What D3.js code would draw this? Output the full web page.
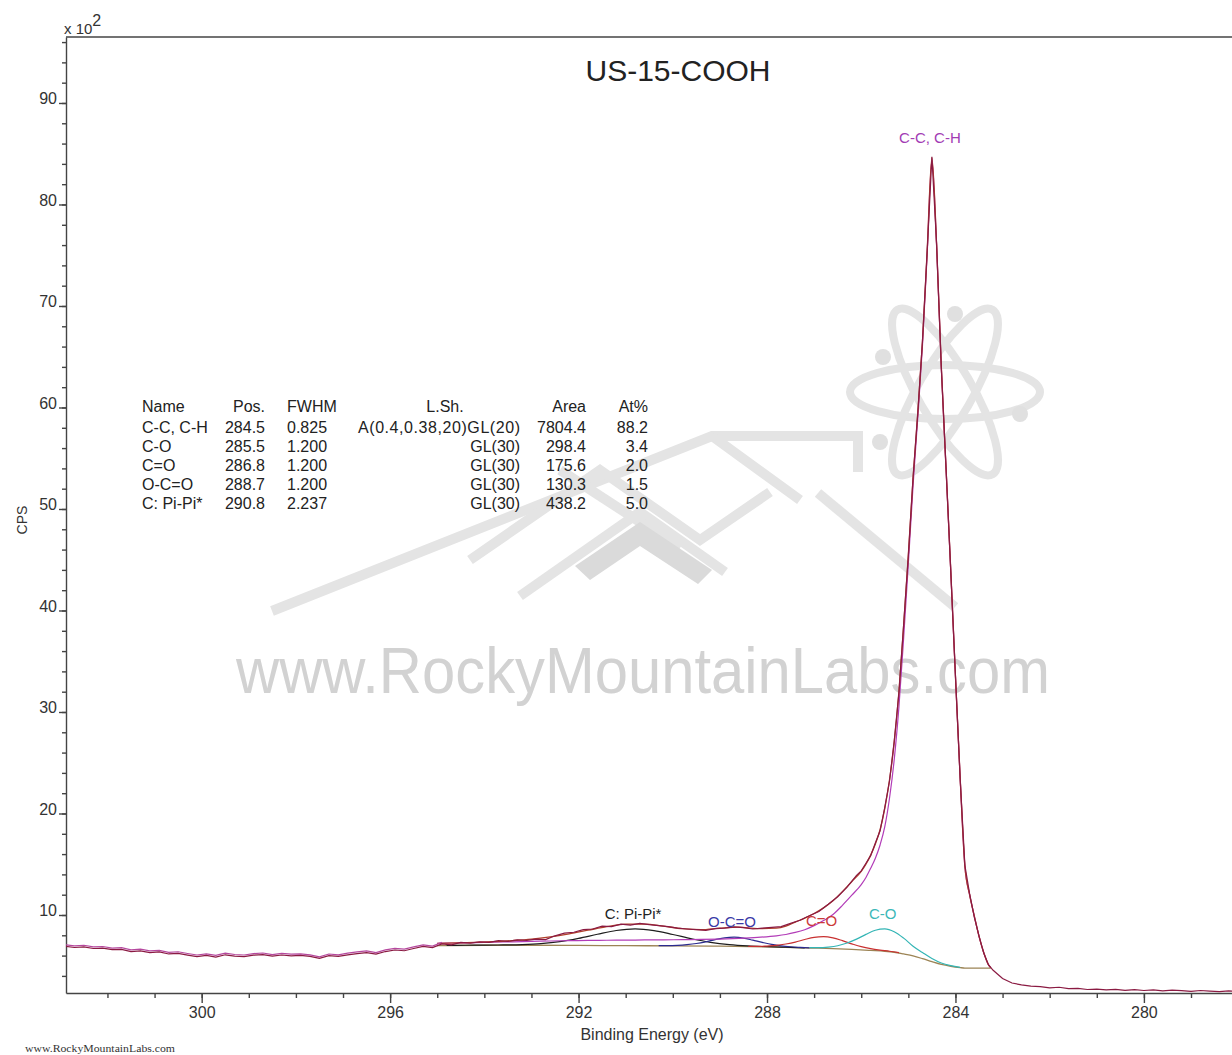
<!DOCTYPE html>
<html lang="en">
<head>
<meta charset="UTF-8">
<title>US-15-COOH</title>
<script src="https://cdn.jsdelivr.net/npm/d3@7"></script>
<style>
  body { margin: 0; background: #fff; }
  svg text { font-family: "Liberation Sans", Arial, sans-serif; }
</style>
</head>
<body>
<div id="chart"></div>
<script>
// C 1s spectrum, counts in units of 100 CPS, binding energy in eV
var rawCounts = [
  [302.9,6.92],[302.7,6.80],[302.5,6.86],[302.3,6.70],[302.1,6.74],[301.9,6.58],[301.7,6.62],[301.5,6.40],
  [301.3,6.47],[301.1,6.30],[300.9,6.36],[300.7,6.16],[300.5,6.22],[300.3,6.05],[300.1,5.90],[299.9,6.02],
  [299.7,5.86],[299.5,6.08],[299.3,5.95],[299.1,5.90],[298.9,6.04],[298.7,6.10],[298.5,5.94],[298.3,6.06],
  [298.1,5.98],[297.9,6.02],[297.7,5.92],[297.5,5.72],[297.3,6.00],[297.1,5.92],[296.9,6.08],[296.7,6.20],
  [296.5,6.30],[296.3,6.14],[296.1,6.40],[295.9,6.55],[295.7,6.48],[295.5,6.70],[295.3,6.90],[295.1,6.78],
  [294.9,7.15],[294.7,7.05],[294.5,7.30],[294.3,7.22],[294.1,7.35],[293.9,7.30],[293.7,7.48],[293.5,7.40],
  [293.3,7.55],[293.1,7.50],[292.9,7.62],[292.7,7.58],[292.5,7.95],[292.3,8.22],[292.1,8.30],[291.9,8.55],
  [291.7,8.62],[291.5,8.90],[291.3,8.85],[291.1,9.10],[290.9,9.00],[290.7,9.18],[290.5,9.05],[290.3,8.95],
  [290.1,8.85],[289.9,8.70],[289.7,8.62],[289.5,8.55],[289.3,8.48],[289.1,8.66],[288.9,8.70],[288.7,8.82],
  [288.5,8.75],[288.3,8.62],[288.1,8.70],[287.9,8.78],[287.7,8.85],[287.5,9.18],[287.3,9.48],[287.1,9.92],
  [286.9,10.35],[286.7,11.05],[286.5,11.80],[286.3,12.75],[286.1,13.90],[286.0,14.35],[285.9,15.10],
  [285.8,15.85],[285.7,17.10],[285.6,18.30],[285.5,20.60],[285.4,23.20],[285.3,27.10],[285.2,31.90],
  [285.1,38.60],[285.0,45.40],[284.9,53.10],[284.8,59.40],[284.7,66.60],[284.6,75.40],[284.5,84.70],
  [284.4,76.10],[284.3,63.90],[284.2,54.10],[284.1,43.90],[284.0,33.60],[283.9,23.40],[283.8,14.90],
  [283.7,12.10],[283.6,9.80],[283.5,7.95],[283.4,6.25],[283.3,5.10],[283.2,4.55],[283.0,3.75],[282.8,3.30],
  [282.6,3.12],[282.4,3.00],[282.2,2.95],[282.0,2.82],[281.8,2.88],[281.6,2.74],[281.4,2.78],[281.2,2.66],
  [281.0,2.70],[280.8,2.62],[280.6,2.68],[280.4,2.58],[280.2,2.64],[280.0,2.56],[279.8,2.62],[279.6,2.52],
  [279.4,2.60],[279.2,2.54],[279.0,2.48],[278.8,2.56],[278.6,2.50],[278.4,2.46],[278.2,2.52],[278.1,2.48]
];

var background = [
  [295.0,6.98],[294.0,7.02],[293.0,7.02],[292.0,7.00],[291.0,6.98],[290.0,6.96],[289.0,6.93],[288.0,6.86],
  [287.4,6.79],[287.0,6.74],[286.6,6.68],[286.2,6.61],[285.8,6.51],[285.5,6.43],[285.3,6.33],[285.1,6.16],
  [284.9,5.97],[284.7,5.70],[284.5,5.40],[284.3,5.13],[284.1,4.95],[283.9,4.82],[283.8,4.77],[283.6,4.76],
  [283.25,4.76]
];

var envelope = [
  [295.0,7.20],[294.6,7.25],[294.2,7.30],[293.8,7.38],[293.4,7.48],[293.0,7.62],[292.6,7.85],[292.2,8.15],
  [291.8,8.50],[291.4,8.85],[291.0,9.10],[290.6,9.10],[290.2,8.90],[289.8,8.65],[289.4,8.55],[289.0,8.70],
  [288.6,8.80],[288.2,8.65],[287.8,8.70],[287.6,8.90],[287.4,9.30],[287.2,9.70],[287.0,10.15],[286.8,10.70],
  [286.6,11.40],[286.4,12.30],[286.2,13.30],[286.0,14.30],[285.9,15.00],[285.8,15.90],[285.7,17.00],
  [285.6,18.40],[285.5,20.50],[285.4,23.30],[285.3,27.00],[285.2,32.00],[285.1,38.50],[285.0,45.50],
  [284.9,53.00],[284.8,59.50],[284.7,66.50],[284.6,75.50],[284.5,84.60],[284.4,76.00],[284.3,64.00],
  [284.2,54.00],[284.1,44.00],[284.0,33.50],[283.9,23.50],[283.8,14.80],[283.7,12.00],[283.6,9.90],
  [283.5,7.90],[283.4,6.30],[283.3,5.10],[283.25,4.80]
];

// fitted components (drawn on top of the background)
var peakCC = [
  [295.0,7.20],[294.6,7.24],[294.2,7.28],[293.8,7.32],[293.4,7.36],[293.0,7.40],[292.6,7.44],[292.2,7.47],
  [291.8,7.49],[291.4,7.51],[291.0,7.52],[290.6,7.54],[290.2,7.55],[289.8,7.57],[289.4,7.59],[289.0,7.63],
  [288.6,7.70],[288.2,7.80],[287.8,7.95],[287.6,8.08],[287.4,8.28],[287.2,8.55],[287.0,8.95],[286.8,9.45],
  [286.6,10.05],[286.4,10.95],[286.2,11.95],[286.0,13.00],[285.9,13.70],[285.8,14.60],[285.7,15.60],
  [285.6,16.90],[285.5,18.70],[285.4,21.50],[285.3,25.30],[285.2,30.50],[285.1,37.30],[285.0,44.60],
  [284.9,52.30],[284.8,59.00],[284.7,66.10],[284.6,75.20],[284.5,84.40],[284.4,75.90],[284.3,63.90],
  [284.2,53.95],[284.1,43.95],[284.0,33.48],[283.9,23.49],[283.8,14.78],[283.7,12.00],[283.6,9.90],
  [283.5,7.90],[283.4,6.30],[283.3,5.10],[283.25,4.80]
];
var peakCO = [
  [287.1,6.78],[286.9,6.78],[286.7,6.84],[286.5,6.97],[286.3,7.24],[286.1,7.62],[285.9,8.09],[285.7,8.50],
  [285.5,8.63],[285.3,8.35],[285.1,7.72],[284.9,6.92],[284.7,6.30],[284.5,5.71],[284.3,5.27],[284.1,5.01],
  [283.9,4.84]
];
var peakCdO = [
  [288.4,6.90],[288.2,6.90],[288.0,6.94],[287.8,7.00],[287.6,7.14],[287.4,7.33],[287.2,7.59],[287.0,7.80],
  [286.8,7.86],[286.6,7.74],[286.4,7.47],[286.2,7.16],[286.0,6.88],[285.8,6.68],[285.6,6.54],[285.4,6.43],
  [285.2,6.29]
];
var peakOCO = [
  [290.3,6.98],[290.1,6.98],[289.9,7.01],[289.7,7.08],[289.5,7.19],[289.3,7.36],[289.1,7.57],[288.9,7.75],
  [288.7,7.81],[288.5,7.73],[288.3,7.52],[288.1,7.30],[287.9,7.10],[287.7,6.96],[287.5,6.87],[287.3,6.81],
  [287.1,6.76]
];
var peakPi = [
  [294.8,7.01],[294.4,7.02],[294.0,7.03],[293.6,7.05],[293.2,7.09],[292.8,7.18],[292.4,7.37],[292.0,7.70],
  [291.6,8.10],[291.2,8.47],[290.8,8.63],[290.4,8.46],[290.0,8.08],[289.6,7.66],[289.2,7.31],[288.8,7.08],
  [288.4,6.95],[288.0,6.88],[287.6,6.82],[287.2,6.77]
];

// quantification table
var tableHeader = ["Name", "Pos.", "FWHM", "L.Sh.", "Area", "At%"];
var peakNames = ["C-C, C-H", "C-O", "C=O", "O-C=O", "C: Pi-Pi*"];
var peakPos = [284.5, 285.5, 286.8, 288.7, 290.8];
var peakFWHM = ["0.825", "1.200", "1.200", "1.200", "2.237"];
var peakShape = ["A(0.4,0.38,20)GL(20)", "GL(30)", "GL(30)", "GL(30)", "GL(30)"];
var peakArea = [7804.4, 298.4, 175.6, 130.3, 438.2];
var peakAtPct = [88.2, 3.4, 2.0, 1.5, 5.0];

var xTickValues = [300, 296, 292, 288, 284, 280];
var yTickValues = [10, 20, 30, 40, 50, 60, 70, 80, 90];

var width = 1232, height = 1055;
var plotL = 66, plotR = 1232, plotT = 37, plotB = 993;

var svg = d3.select("#chart").append("svg")
    .attr("width", width)
    .attr("height", height);

var x = d3.scaleLinear().domain([302.88, 278.13]).range([plotL, plotR]);
var y = d3.scaleLinear().domain([2.315, 96.5]).range([plotB, plotT]);

// ---- watermark ----
var wm = svg.append("g").attr("fill", "none").attr("stroke", "#e4e4e4")
    .attr("stroke-width", 10).attr("stroke-linejoin", "miter");
wm.append("path").attr("d", "M272,611 L712,436 L858,436 L858,472");
wm.append("path").attr("d", "M712,436 L800,500");
wm.append("path").attr("d", "M818,493 L955,607");
wm.append("path").attr("d", "M470,560 L600,470 L700,540 L770,492");
wm.append("path").attr("d", "M520,596 L640,512 L725,572");
wm.append("path").attr("d", "M560,470 L680,548");
wm.append("polygon").attr("points", "575,566 640,522 712,570 698,584 640,546 590,580")
    .attr("fill", "#dadada").attr("stroke", "none");
var atom = wm.append("g").attr("transform", "translate(945,392)").attr("stroke-width", 8);
[0, 60, -60].forEach(function (a) {
    atom.append("ellipse").attr("rx", 95).attr("ry", 27).attr("transform", "rotate(" + a + ")");
});
[[10, -78], [-62, -35], [75, 22], [-65, 50]].forEach(function (p) {
    atom.append("circle").attr("cx", p[0]).attr("cy", p[1]).attr("r", 8)
        .attr("fill", "#e0e0e0").attr("stroke", "none");
});
svg.append("text")
    .attr("x", 236).attr("y", 693)
    .attr("textLength", 814).attr("lengthAdjust", "spacingAndGlyphs")
    .style("font-family", "'Liberation Sans Narrow', 'Liberation Sans', Arial, sans-serif")
    .style("font-size", "64px")
    .attr("fill", "#d2d2d2")
    .text("www.RockyMountainLabs.com");

// ---- axes ----
svg.append("g").attr("transform", "translate(0," + plotB + ")")
    .call(d3.axisBottom(x).tickValues(xTickValues).tickSize(10).tickSizeOuter(0)
        .tickPadding(4).tickFormat(d3.format("d")));
svg.append("g").attr("transform", "translate(0," + plotB + ")")
    .call(d3.axisBottom(x).tickValues(d3.range(279, 303, 1)).tickSize(5).tickSizeOuter(0).tickFormat(""))
    .select(".domain").remove();

var yAxis = svg.append("g").attr("transform", "translate(" + plotL + ",0)")
    .call(d3.axisLeft(y).tickValues(yTickValues).tickSize(7).tickSizeOuter(0).tickPadding(2));
yAxis.selectAll(".tick text").attr("dy", "0.05em");
svg.append("g").attr("transform", "translate(" + plotL + ",0)")
    .call(d3.axisLeft(y).tickValues(d3.range(4, 97, 2)).tickSize(4).tickSizeOuter(0).tickFormat(""))
    .select(".domain").remove();

svg.selectAll(".domain, .tick line").attr("stroke", "#444").attr("stroke-width", 1.4);
svg.selectAll(".tick text").attr("fill", "#333").style("font-size", "16px")
    .style("font-family", "'Liberation Sans', Arial, sans-serif");
svg.append("line").attr("x1", plotL).attr("x2", plotR).attr("y1", plotT).attr("y2", plotT)
    .attr("stroke", "#444").attr("stroke-width", 1.4);

// ---- texts ----
svg.append("text").attr("x", 678).attr("y", 81).attr("text-anchor", "middle")
    .style("font-size", "30px").attr("fill", "#222").text("US-15-COOH");
var mult = svg.append("text").attr("x", 64).attr("y", 34).style("font-size", "15px").attr("fill", "#333");
mult.append("tspan").text("x 10");
mult.append("tspan").attr("dy", -8).style("font-size", "16px").text("2");
svg.append("text").attr("transform", "translate(27,520) rotate(-90)").attr("text-anchor", "middle")
    .style("font-size", "14px").attr("fill", "#333").text("CPS");
svg.append("text").attr("x", 652).attr("y", 1040).attr("text-anchor", "middle")
    .style("font-size", "16px").attr("fill", "#333").text("Binding Energy (eV)");
svg.append("text").attr("x", 25).attr("y", 1052)
    .attr("textLength", 150).attr("lengthAdjust", "spacingAndGlyphs")
    .style("font-family", "'Liberation Serif', 'Times New Roman', serif")
    .style("font-size", "10px").attr("fill", "#333").text("www.RockyMountainLabs.com");

// ---- table ----
var table = svg.append("g").style("font-size", "16px").attr("fill", "#222");
var colX = [142, 265, 287, 445, 586, 648];
var colAnchor = ["start", "end", "start", "middle", "end", "end"];
tableHeader.forEach(function (h, i) {
    table.append("text").attr("x", colX[i]).attr("y", 412).attr("text-anchor", colAnchor[i]).text(h);
});
peakNames.forEach(function (n, r) {
    var yy = 432.5 + r * 19.2;
    var cells = [n, peakPos[r].toFixed(1), peakFWHM[r], peakShape[r],
        peakArea[r].toFixed(1), peakAtPct[r].toFixed(1)];
    var cx = [142, 265, 287, 520, 586, 648];
    var anchor = ["start", "end", "start", "end", "end", "end"];
    cells.forEach(function (c, i) {
        var t = table.append("text").attr("x", cx[i]).attr("y", yy).attr("text-anchor", anchor[i]).text(c);
        if (i === 3 && c.length > 10) t.attr("textLength", 162).attr("lengthAdjust", "spacing");
    });
});

// ---- curves ----
svg.append("clipPath").attr("id", "plot").append("rect")
    .attr("x", plotL).attr("y", plotT).attr("width", plotR - plotL).attr("height", plotB - plotT);
var plot = svg.append("g").attr("clip-path", "url(#plot)").attr("fill", "none");

var smooth = d3.line().x(function (d) { return x(d[0]); }).y(function (d) { return y(d[1]); })
    .curve(d3.curveMonotoneX);
var raw = d3.line().x(function (d) { return x(d[0]); }).y(function (d) { return y(d[1]); });

var comps = [
    {data: peakPi, color: "#1e1e1e", label: "C: Pi-Pi*", lc: "#222", off: 10},
    {data: peakOCO, color: "#2b2b8f", label: "O-C=O", lc: "#3a3aa6", off: 10},
    {data: peakCdO, color: "#c83030", label: "C=O", lc: "#cc3a3a", off: 11},
    {data: peakCO, color: "#33b5b5", label: "C-O", lc: "#3cb8b8", off: 10},
    {data: peakCC, color: "#b23cb8", label: "C-C, C-H", lc: "#a23cb4", off: 17}
];

plot.append("path").attr("d", smooth(background)).attr("stroke", "#9c8455").attr("stroke-width", 1.3);
comps.forEach(function (c) {
    plot.append("path").attr("d", smooth(c.data)).attr("stroke", c.color).attr("stroke-width", 1.2);
});
plot.append("path").attr("d", smooth(envelope)).attr("stroke", "#b0402a").attr("stroke-width", 1.3);
plot.append("path").attr("d", raw(rawCounts.filter(function (d) { return d[0] >= 294.8; })))
    .attr("transform", "translate(0,-1.6)").attr("stroke", "#b5489f").attr("stroke-width", 1.2);
plot.append("path").attr("d", raw(rawCounts)).attr("stroke", "#8a1a42").attr("stroke-width", 1.2);

// peak labels
comps.forEach(function (c) {
    var pos = peakPos[peakNames.indexOf(c.label)];
    var peakTop = d3.max(c.data, function (d) { return d[1]; });
    svg.append("text").attr("x", x(pos) - 2).attr("y", y(peakTop) - c.off)
        .attr("text-anchor", "middle").style("font-size", "15px").attr("fill", c.lc).text(c.label);
});
</script>
</body>
</html>
